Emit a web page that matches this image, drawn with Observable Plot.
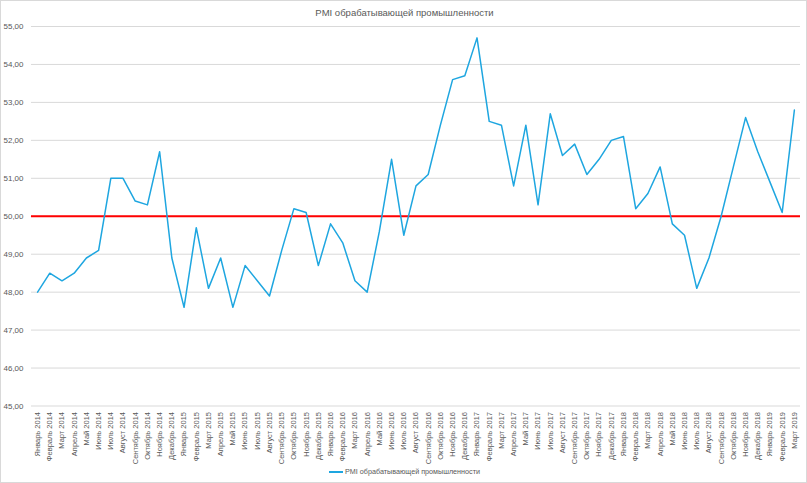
<!DOCTYPE html>
<html>
<head>
<meta charset="utf-8">
<script src="https://cdn.jsdelivr.net/npm/d3@7"></script>
<script src="https://cdn.jsdelivr.net/npm/@observablehq/plot@0.6"></script>
<style>
  html, body { margin: 0; padding: 0; background: #fff; }
  #wrap { position: relative; width: 807px; height: 483px; box-sizing: border-box; border: 1px solid #d9d9d9; overflow: hidden; font-family: "Liberation Sans", Arial, sans-serif; }
  #title { position: absolute; left: 0; top: 6px; width: 807px; text-align: center; font-size: 9.5px; color: #595959; }
  #chart { position: absolute; left: -1px; top: 19px; }
  #legend { position: absolute; left: 0; top: 465px; width: 807px; text-align: center; font-size: 7.2px; color: #595959; line-height: 12px; }
  #legend .sw { display: inline-block; width: 14px; height: 2px; background: #1ea6e0; vertical-align: middle; margin-right: 2px; }
</style>
</head>
<body>
<div id="wrap">
  <div id="title">PMI обрабатывающей промышленности</div>
  <div id="chart"></div>
  <div id="legend"><span class="sw"></span>PMI обрабатывающей промышленности</div>
</div>
<script>
const months = ["Январь","Февраль","Март","Апрель","Май","Июнь","Июль","Август","Сентябрь","Октябрь","Ноябрь","Декабрь"];
const years = [2014, 2015, 2016, 2017, 2018, 2019];
const pmi = [
  48.0, 48.5, 48.3, 48.5, 48.9, 49.1, 51.0, 51.0, 50.4, 50.3, 51.7, 48.9,
  47.6, 49.7, 48.1, 48.9, 47.6, 48.7, 48.3, 47.9, 49.1, 50.2, 50.1, 48.7,
  49.8, 49.3, 48.3, 48.0, 49.6, 51.5, 49.5, 50.8, 51.1, 52.4, 53.6, 53.7,
  54.7, 52.5, 52.4, 50.8, 52.4, 50.3, 52.7, 51.6, 51.9, 51.1, 51.5, 52.0,
  52.1, 50.2, 50.6, 51.3, 49.8, 49.5, 48.1, 48.9, 50.0, 51.3, 52.6, 51.7,
  50.9, 50.1, 52.8
];
const threshold = 50;
const yTicks = [45, 46, 47, 48, 49, 50, 51, 52, 53, 54, 55];

const labels = [];
for (const y of years) for (const m of months) labels.push(m + " " + y);
labels.length = pmi.length;
const data = pmi.map((v, i) => ({i, label: labels[i], value: v}));
const idx = data.map(d => d.i);

const chart = Plot.plot({
  width: 807,
  height: 447,
  marginLeft: 31,
  marginRight: 6,
  marginTop: 6,
  marginBottom: 61,
  style: {fontFamily: "'Liberation Sans', Arial, sans-serif", fontSize: "8px", color: "#595959", background: "transparent"},
  x: {type: "linear", domain: [-0.5, pmi.length - 0.5], label: null},
  y: {domain: [45, 55], label: null},
  marks: [
    Plot.gridY(yTicks, {stroke: "#d9d9d9", strokeOpacity: 1, strokeWidth: 1}),
    Plot.axisY(yTicks, {tickSize: 0, tickPadding: 8, tickFormat: d => d.toFixed(2).replace(".", ","), fill: "#595959", fontSize: 8}),
    Plot.axisX(idx, {tickSize: 0, tickPadding: 6, tickRotate: -90, tickFormat: i => labels[i], fill: "#595959", fontSize: 7.5}),
    Plot.ruleY([threshold], {stroke: "#ff0000", strokeWidth: 2}),
    Plot.lineY(data, {x: "i", y: "value", stroke: "#1ea6e0", strokeWidth: 1.5})
  ]
});
document.getElementById("chart").appendChild(chart);
</script>
</body>
</html>
